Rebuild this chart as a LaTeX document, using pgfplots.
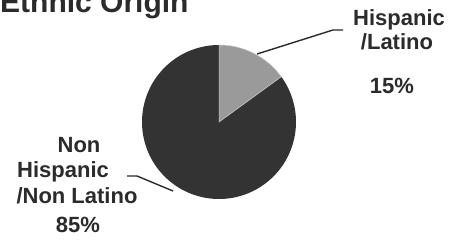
\documentclass[border=0pt]{standalone}
\usepackage{pgfplots}
\pgfplotsset{compat=1.18}
\usepackage{fontspec}
\setmainfont{Liberation Sans}
\definecolor{pieDark}{HTML}{333333}
\definecolor{pieLight}{HTML}{9A9A9A}
\definecolor{txt}{HTML}{2B2B2B}
\begin{document}
\begin{tikzpicture}
\path[use as bounding box] (0,0) rectangle (455pt,242pt);
\fill[white] (0,0) rectangle (455pt,242pt);
% shares in percent
\pgfmathsetmacro{\hisp}{15}
\pgfmathsetmacro{\nonhisp}{85}
\pgfmathsetmacro{\aStart}{90-\hisp*3.6}
\pgfmathsetmacro{\aEnd}{90+\nonhisp*3.6-\hisp*3.6+\hisp*3.6}
\begin{axis}[
  at={(0,0)}, anchor=south west,
  x=1pt, y=1pt,
  xmin=0, xmax=455, ymin=0, ymax=242,
  enlargelimits=false,
  hide axis, clip=false,
]
% Non Hispanic slice (85%)
\addplot[draw=none, fill=pieDark, domain=90:{90+\nonhisp*3.6}, samples=120]
  ({219+77*cos(x)},{120+77*sin(x)}) -- (axis cs:219,120) -- cycle;
% Hispanic slice (15%)
\addplot[draw=gray!40, line width=0.5pt, fill=pieLight, domain=\aStart:90, samples=40]
  ({219+77*cos(x)},{120+77*sin(x)}) -- (axis cs:219,120) -- cycle;
% leader lines
\addplot[txt, line width=1.4pt, mark=none] coordinates {(257,188) (333,212) (343,212)};
\addplot[txt, line width=1.4pt, mark=none] coordinates {(127,66) (137,66) (173,51)};
% title (cut off at the top)
\node[anchor=base west, inner sep=0pt, text=txt] at (axis cs:0,229.5)
  {\fontsize{30}{36}\selectfont\bfseries Ethnic Origin};
% right labels
\begin{scope}[every node/.style={anchor=base, inner sep=0pt, text=txt, font=\fontsize{22}{26}\selectfont\bfseries}]
\node at (axis cs:399,217) {Hispanic};
\node at (axis cs:397,193) {/Latino};
\node at (axis cs:392,149) {15\%};
\node at (axis cs:79,90) {Non};
\node at (axis cs:63,65) {Hispanic};
\node at (axis cs:77,39) {/Non Latino};
\node at (axis cs:78,10) {85\%};
\end{scope}
\end{axis}
\end{tikzpicture}
\end{document}
